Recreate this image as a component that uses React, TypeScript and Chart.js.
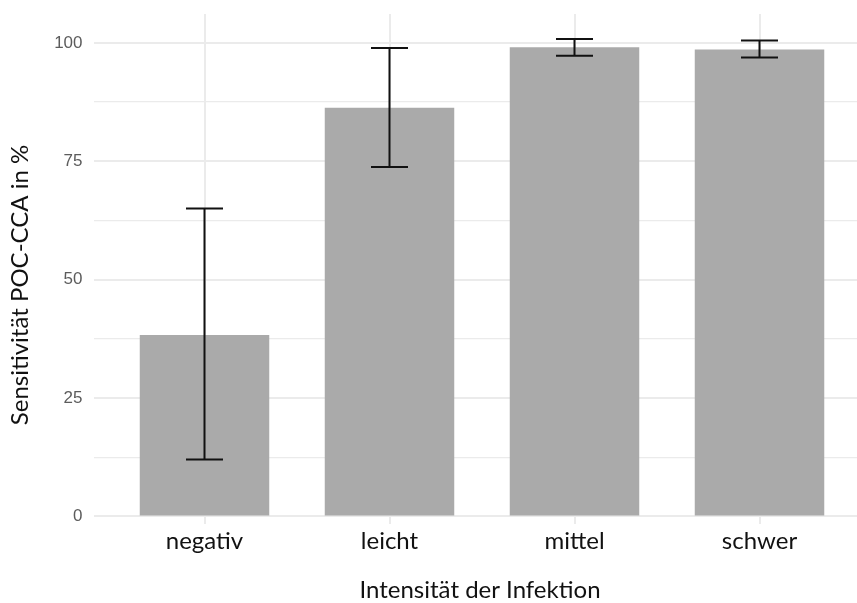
import { useEffect, useRef } from 'react';
import { Chart, registerables } from 'chart.js';

Chart.register(...registerables);

const categories = ['negativ', 'leicht', 'mittel', 'schwer'];
const sensitivity = [38.3, 86.3, 99.1, 98.6];
const ciLower = [12.0, 73.8, 97.3, 96.9];
const ciUpper = [65.0, 98.9, 100.8, 100.5];
const yTickValues = [0, 12.5, 25, 37.5, 50, 62.5, 75, 87.5, 100];
const xTitle = 'Intensität der Infektion';
const yTitle = 'Sensitivität POC-CCA in %';

const LABEL_FONT = 'Lato';

const errorBarPlugin = {
  id: 'errorBars',
  afterDatasetsDraw(chart: any) {
    const { ctx, scales } = chart;
    const xs = scales.x;
    const ys = scales.y;
    ctx.save();
    ctx.strokeStyle = '#111111';
    ctx.lineWidth = 2;
    ctx.lineCap = 'butt';
    categories.forEach((_, i) => {
      const x = xs.getPixelForValue(i + 1);
      const half = xs.getPixelForValue(i + 1.1) - x;
      const yl = ys.getPixelForValue(ciLower[i]);
      const yu = ys.getPixelForValue(ciUpper[i]);
      ctx.beginPath();
      ctx.moveTo(x, yl);
      ctx.lineTo(x, yu);
      ctx.moveTo(x - half, yl);
      ctx.lineTo(x + half, yl);
      ctx.moveTo(x - half, yu);
      ctx.lineTo(x + half, yu);
      ctx.stroke();
    });
    ctx.restore();
  },
};

const titlePlugin = {
  id: 'axisTitles',
  afterDraw(chart: any) {
    const { ctx } = chart;
    ctx.save();
    ctx.fillStyle = '#111111';
    ctx.font = `24px ${LABEL_FONT}`;
    ctx.textAlign = 'center';
    ctx.textBaseline = 'alphabetic';
    ctx.fillText(xTitle, 480, 598);
    ctx.translate(28, 285);
    ctx.rotate(-Math.PI / 2);
    ctx.fillText(yTitle, 0, 0);
    ctx.restore();
  },
};

export default function App() {
  const ref = useRef<HTMLCanvasElement>(null);

  useEffect(() => {
    if (!ref.current) return;
    const chart = new Chart(ref.current, {
      type: 'bar',
      data: {
        datasets: [
          {
            data: categories.map((_, i) => ({ x: i + 1, y: sensitivity[i] })),
            backgroundColor: '#aaaaaa',
            borderWidth: 0,
            categoryPercentage: 1,
            barPercentage: 0.7,
          },
        ],
      },
      options: {
        responsive: false,
        animation: false,
        layout: { padding: { top: 14, left: 0, right: 0, bottom: 0 } },
        plugins: { legend: { display: false }, tooltip: { enabled: false } },
        scales: {
          x: {
            type: 'linear',
            offset: false,
            min: 0.4,
            max: 4.527,
            afterBuildTicks(scale: any) {
              scale.ticks = categories.map((_, i) => ({ value: i + 1 }));
            },
            afterFit(scale: any) {
              scale.height = 79;
              scale.paddingLeft = 0;
              scale.paddingRight = 0;
            },
            ticks: {
              callback: (v: any) => categories[Math.round(v) - 1] ?? '',
              font: { family: LABEL_FONT, size: 24 },
              color: '#111111',
              padding: 3,
              maxRotation: 0,
              autoSkip: false,
            },
            grid: { color: '#ebebeb', lineWidth: 2, drawTicks: false, offset: false },
            border: { display: false },
          },
          y: {
            min: -1.6,
            max: 106.1,
            afterBuildTicks(scale: any) {
              scale.ticks = yTickValues.map((v) => ({ value: v }));
            },
            afterFit(scale: any) {
              scale.width = 93.5;
              scale.paddingTop = 0;
              scale.paddingBottom = 0;
            },
            ticks: {
              callback: (v: any) => (Number(v) % 25 === 0 ? String(v) : ''),
              font: { family: 'Liberation Sans', size: 17 },
              color: '#5c5c5c',
              padding: 11,
            },
            grid: {
              color: '#ebebeb',
              lineWidth: (c: any) => (c.tick && c.tick.value % 25 === 0 ? 2 : 1.3),
              drawTicks: false,
            },
            border: { display: false },
          },
        },
      },
      plugins: [errorBarPlugin, titlePlugin],
    });
    return () => chart.destroy();
  }, []);

  return (
    <div style={{ position: 'fixed', left: 0, top: 0, width: 857, height: 603, background: '#fff' }}>
      <canvas ref={ref} width={857} height={603} style={{ width: 857, height: 603 }} />
    </div>
  );
}
